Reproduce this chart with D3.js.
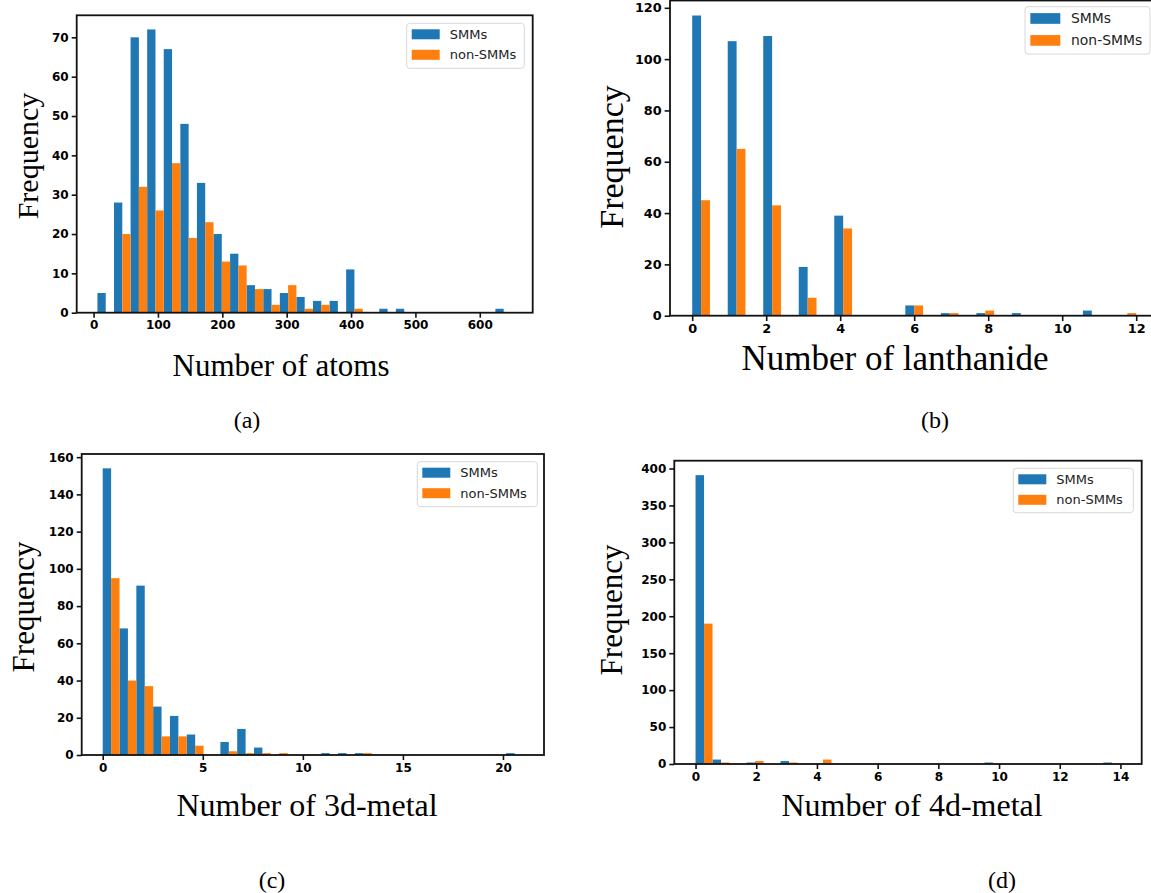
<!DOCTYPE html>
<html>
<head>
<meta charset="utf-8">
<script src="https://cdn.jsdelivr.net/npm/d3@7"></script>
<style>
  body { margin: 0; background: #fff; }
  .tick text { font-family: "DejaVu Sans", sans-serif; font-weight: bold; fill: #000; }
  .tick line { stroke: #111; }
  .lab { font-family: "Liberation Serif", "Times New Roman", serif; fill: #000; }
  .leg { font-family: "DejaVu Sans", sans-serif; fill: #222; }
</style>
</head>
<body>
<div id="chart"></div>
<script>
// 数据：每个子图 25 个分箱（matplotlib hist, bins=25）
const seriesNames = ["SMMs", "non-SMMs"];
const colors = ["#1f77b4", "#ff7f0e"];

// (a) Number of atoms, 范围 6..650
const atomsRange = [6, 650];
const atomsSMM = [5, 28, 70, 72, 67, 48, 33, 20, 15, 7, 6, 5, 4, 3, 3, 11, 0, 1, 1, 0, 0, 0, 0, 0, 1];
const atomsNon = [0, 20, 32, 26, 38, 19, 23, 13, 12, 6, 2, 7, 1, 2, 0, 1, 0, 0, 0, 0, 0, 0, 0, 0, 0];
const atomsXTicks = [0, 100, 200, 300, 400, 500, 600];
const atomsYTicks = [0, 10, 20, 30, 40, 50, 60, 70];

// (b) Number of lanthanide, 范围 0..12
const lnRange = [0, 12];
const lnSMM = [117, 0, 107, 0, 109, 0, 19, 0, 39, 0, 0, 0, 4, 0, 1, 0, 1, 0, 1, 0, 0, 0, 2, 0, 0];
const lnNon = [45, 0, 65, 0, 43, 0, 7, 0, 34, 0, 0, 0, 4, 0, 1, 0, 2, 0, 0, 0, 0, 0, 0, 0, 1];
const lnXTicks = [0, 2, 4, 6, 8, 10, 12];
const lnYTicks = [0, 20, 40, 60, 80, 100, 120];

// (c) Number of 3d-metal, 范围 0..21
const m3dRange = [0, 21];
const m3dSMM = [154, 68, 91, 26, 21, 11, 0, 7, 14, 4, 0, 0, 0, 1, 1, 1, 0, 0, 0, 0, 0, 0, 0, 0, 1];
const m3dNon = [95, 40, 37, 10, 10, 5, 0, 2, 1, 1, 1, 0, 0, 0, 0, 1, 0, 0, 0, 0, 0, 0, 0, 0, 0];
const m3dXTicks = [0, 5, 10, 15, 20];
const m3dYTicks = [0, 20, 40, 60, 80, 100, 120, 140, 160];

// (d) Number of 4d-metal, 范围 0..14
const m4dRange = [0, 14];
const m4dSMM = [391, 6, 0, 2, 0, 4, 0, 0, 0, 0, 0, 0, 0, 0, 0, 0, 0, 2, 0, 0, 0, 0, 0, 0, 2];
const m4dNon = [190, 2, 0, 4, 0, 2, 0, 6, 0, 0, 0, 0, 0, 0, 0, 0, 0, 0, 0, 0, 0, 0, 0, 0, 0];
const m4dXTicks = [0, 2, 4, 6, 8, 10, 12, 14];
const m4dYTicks = [0, 50, 100, 150, 200, 250, 300, 350, 400];

const width = 1151;
const height = 893;

const svg = d3.select("#chart").append("svg")
    .attr("width", width).attr("height", height);

// 各子图的位置（像素）
const panels = [
    {range: atomsRange, data: [atomsSMM, atomsNon], xt: atomsXTicks, yt: atomsYTicks,
     xlabel: "Number of atoms", cap: "(a)",
     box: [76.7, 532.7, 15.3, 312.7], s: 1, fs: 31, xl: [281, 376], yl: [27, 156], capPos: [247, 428],
     leg: [406.7, 23.3, 117.6, 45]},
    {range: lnRange, data: [lnSMM, lnNon], xt: lnXTicks, yt: lnYTicks,
     xlabel: "Number of lanthanide", cap: "(b)",
     box: [670, 1158.4, 0.5, 315.7], s: 1.07, fs: 35, xl: [895, 370], yl: [611, 157], capPos: [935, 428],
     leg: [1025, 6.7, 125, 47.3]},
    {range: m3dRange, data: [m3dSMM, m3dNon], xt: m3dXTicks, yt: m3dYTicks,
     xlabel: "Number of 3d-metal", cap: "(c)",
     box: [81.7, 544, 454, 755], s: 1, fs: 32, xl: [307, 816], yl: [23, 607], capPos: [272, 888],
     leg: [417.3, 461.7, 120, 45]},
    {range: m4dRange, data: [m4dSMM, m4dNon], xt: m4dXTicks, yt: m4dYTicks,
     xlabel: "Number of 4d-metal", cap: "(d)",
     box: [674.3, 1141.7, 460.7, 764], s: 1, fs: 32, xl: [912, 816], yl: [611, 610], capPos: [1002, 888],
     leg: [1013.3, 468.3, 120, 44.4]}
];

panels.forEach(draw_panel);

function draw_panel(p) {
    var nb = p.data[0].length;
    var lo = p.range[0], hi = p.range[1];
    var bw = (hi - lo) / nb;
    var margin = (hi - lo) * 0.05;
    var ymax = d3.max(p.data, d => d3.max(d)) * 1.05;

    var x = d3.scaleLinear().domain([lo - margin, hi + margin]).range([p.box[0], p.box[1]]);
    var y = d3.scaleLinear().domain([0, ymax]).range([p.box[3], p.box[2]]);

    var g = svg.append("g");

    // 柱子（保留分箱序号，再去掉空箱）
    p.data.forEach(function (counts, j) {
        var bins = counts.map((v, i) => ({i: i, v: v})).filter(d => d.v > 0);
        g.append("g").selectAll("rect")
            .data(bins)
            .enter()
            .append("rect")
            .attr("x", d => x(lo + d.i * bw + j * bw / 2))
            .attr("width", d => x(lo + d.i * bw + (j + 1) * bw / 2) - x(lo + d.i * bw + j * bw / 2))
            .attr("y", d => y(d.v))
            .attr("height", d => y(0) - y(d.v))
            .attr("fill", colors[j]);
    });

    // 坐标轴
    var fsz = 12 * p.s;
    g.append("g")
        .attr("transform", "translate(0," + p.box[3] + ")")
        .call(d3.axisBottom(x).tickValues(p.xt).tickFormat(d3.format("d")).tickSize(5 * p.s).tickPadding(3))
        .call(a => a.select(".domain").remove())
        .call(a => a.selectAll(".tick line").attr("stroke-width", 1.6))
        .call(a => a.selectAll(".tick text").style("font-size", fsz + "px"));

    g.append("g")
        .attr("transform", "translate(" + p.box[0] + ",0)")
        .call(d3.axisLeft(y).tickValues(p.yt).tickFormat(d3.format("d")).tickSize(5 * p.s).tickPadding(3))
        .call(a => a.select(".domain").remove())
        .call(a => a.selectAll(".tick line").attr("stroke-width", 1.6))
        .call(a => a.selectAll(".tick text").style("font-size", fsz + "px"));

    // 边框
    g.append("rect")
        .attr("x", p.box[0]).attr("y", p.box[2])
        .attr("width", p.box[1] - p.box[0]).attr("height", p.box[3] - p.box[2])
        .attr("fill", "none").attr("stroke", "#111").attr("stroke-width", 1.8);

    // 图例
    var L = p.leg;
    var lg = g.append("g").attr("transform", "translate(" + L[0] + "," + L[1] + ")");
    lg.append("rect")
        .attr("width", L[2]).attr("height", L[3]).attr("rx", 3)
        .attr("fill", "#fff").attr("fill-opacity", 0.8)
        .attr("stroke", "#d8d8d8").attr("stroke-width", 1);
    seriesNames.forEach(function (name, j) {
        var cy = (11 + j * 20.5) * p.s;
        lg.append("rect")
            .attr("x", 5 * p.s).attr("y", cy - 5 * p.s)
            .attr("width", 28 * p.s).attr("height", 10 * p.s)
            .attr("fill", colors[j]);
        lg.append("text")
            .attr("class", "leg")
            .attr("x", 43 * p.s).attr("y", cy)
            .attr("dy", "0.35em")
            .style("font-size", (13 * p.s) + "px")
            .text(name);
    });

    // 轴标题
    g.append("text")
        .attr("class", "lab")
        .attr("x", p.xl[0]).attr("y", p.xl[1])
        .attr("text-anchor", "middle")
        .style("font-size", p.fs + "px")
        .text(p.xlabel);

    g.append("text")
        .attr("class", "lab")
        .attr("transform", "translate(" + p.yl[0] + "," + p.yl[1] + ") rotate(-90)")
        .attr("text-anchor", "middle")
        .attr("dy", "0.35em")
        .style("font-size", (p.fs - 1) + "px")
        .text("Frequency");

    // 子图编号
    g.append("text")
        .attr("class", "lab")
        .attr("x", p.capPos[0]).attr("y", p.capPos[1])
        .attr("text-anchor", "middle")
        .style("font-size", "24px")
        .text(p.cap);
}
</script>
</body>
</html>
